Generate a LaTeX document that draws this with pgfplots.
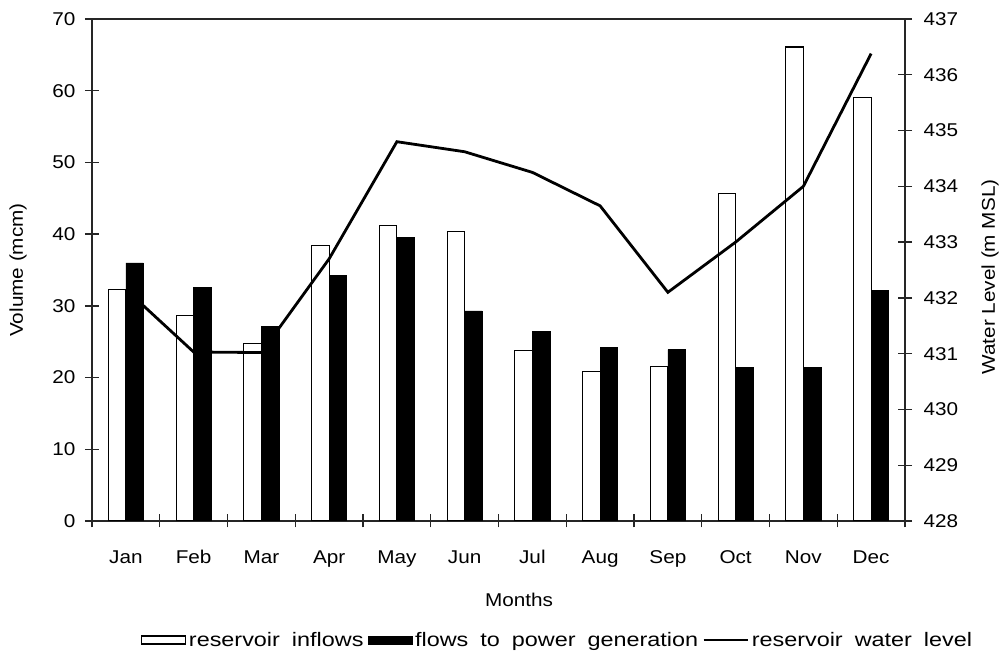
\documentclass[border=0pt]{standalone}
\usepackage{fontspec}
\setmainfont{Liberation Sans}[FakeStretch=1.12]
\newfontfamily\legfamily{Liberation Sans}[FakeStretch=1.2]
\usepackage{pgfplots}
\pgfplotsset{compat=1.18}
\newcommand{\lblfont}{\fontsize{18.5}{22}\selectfont}
\newcommand{\legfont}{\legfamily\fontsize{19.5}{22}\selectfont\spaceskip=12pt\relax}
\begin{document}
\begin{tikzpicture}[x=1pt,y=1pt]
\useasboundingbox (0,0) rectangle (1008,655);
\begin{axis}[
  at={(92pt,134pt)}, anchor=south west,
  scale only axis, width=813pt, height=502pt,
  xmin=0.5, xmax=12.5, ymin=0, ymax=70,
  ybar=0pt, bar width=17.5pt,
  xtick={1,...,12},
  xticklabels={Jan,Feb,Mar,Apr,May,Jun,Jul,Aug,Sep,Oct,Nov,Dec},
  major x tick style={draw=none},
  minor xtick={0.5,1.5,...,12.5},
  ytick={0,10,...,70},
  tick align=center,
  major tick length=14pt, minor tick length=13pt,
  xtick pos=bottom, ytick pos=left,
  axis line style={black!85, line width=1.3pt},
  tick style={black!85, line width=1.3pt},
  font=\lblfont,
  /pgf/number format/assume math mode=true,
  ticklabel style={font=\lblfont},
  xticklabel style={yshift=-19pt},
  yticklabel style={xshift=-6pt},
  legend style={draw=none, at={(axis description cs:0.5,0)}, anchor=center,
    xshift=59pt, yshift=-119pt, font=\legfont,
    /tikz/every even column/.append style={column sep=2pt},
    /tikz/every odd column/.append style={column sep=1pt}},
  legend columns=-1,
]
\addplot[fill=white, draw=black, line width=1.1pt,
  legend image code/.code={\draw[fill=white,draw=black,line width=1.1pt] (0pt,-4pt) rectangle (44pt,4pt);}]
  coordinates {(1,32.3) (2,28.7) (3,24.8) (4,38.4) (5,41.2) (6,40.4) (7,23.8) (8,20.8) (9,21.6) (10,45.7) (11,66.1) (12,59.1)};
\addlegendentry{reservoir inflows}
\addplot[fill=black, draw=black, line width=0.6pt,
  legend image code/.code={\draw[fill=black,draw=black] (0pt,-4pt) rectangle (44pt,4pt);}]
  coordinates {(1,36.0) (2,32.6) (3,27.1) (4,34.3) (5,39.6) (6,29.3) (7,26.4) (8,24.2) (9,23.9) (10,21.4) (11,21.4) (12,32.1)};
\addlegendentry{flows to power generation}
\addlegendimage{legend image code/.code={\draw[black,line width=2.5pt] (0pt,0pt) -- (44pt,0pt);}}
\addlegendentry{reservoir water level}
\end{axis}
\begin{axis}[
  at={(92pt,134pt)}, anchor=south west,
  scale only axis, width=813pt, height=502pt,
  xmin=0.5, xmax=12.5, ymin=428, ymax=437,
  axis x line=none, axis y line*=right,
  ytick={428,429,...,437},
  tick align=center, major tick length=14pt,
  axis line style={black!85, line width=1.3pt},
  tick style={black!85, line width=1.3pt},
  /pgf/number format/assume math mode=true,
  /pgf/number format/1000 sep={},
  ticklabel style={font=\lblfont},
  yticklabel style={xshift=8pt},
]
\addplot[black, line width=2.8pt, mark=none]
  coordinates {(1,432.15) (2,431.03) (3,431.02) (4,432.7) (5,434.8) (6,434.62) (7,434.25) (8,433.65) (9,432.1) (10,433.0) (11,434.0) (12,436.38)};
\end{axis}
\node[rotate=90, font=\lblfont] at (18,385) {Volume (mcm)};
\node[rotate=90, font=\lblfont] at (990,378) {Water Level (m MSL)};
\node[font=\lblfont] at (519,55) {Months};
\end{tikzpicture}
\end{document}
